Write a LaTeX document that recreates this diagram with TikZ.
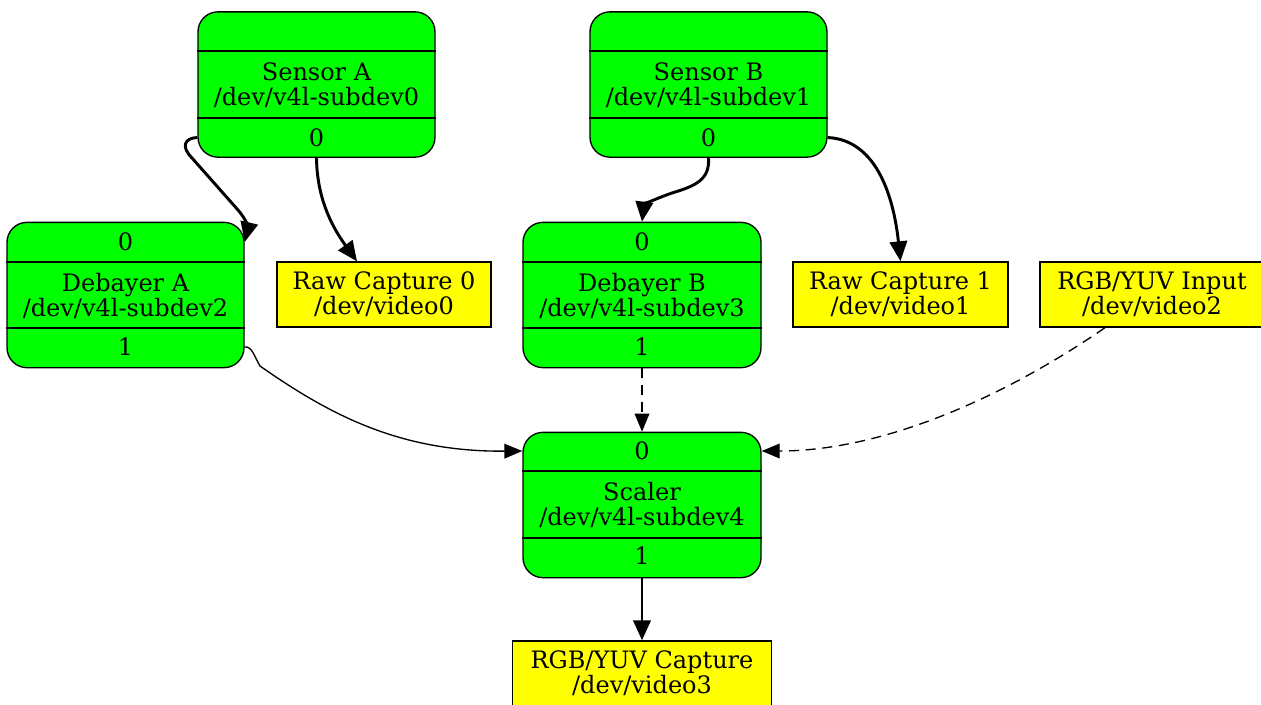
\documentclass[tikz,border=0pt]{standalone}
\usepackage{fontspec}
\setmainfont{DejaVu Serif}
\usetikzlibrary{arrows.meta}
\definecolor{gvgreen}{HTML}{00FF00}
\definecolor{gvyellow}{HTML}{FFFF00}
\begin{document}
\begin{tikzpicture}[x=0.75pt,y=-0.75pt,
  txt/.style={font=\fontsize{18}{18.75}\selectfont, align=center, inner sep=0pt},
  gbox/.style={draw, fill=gvgreen, rounded corners=15pt, line width=1pt, inner sep=0pt,
     minimum width=177.75pt, minimum height=109pt},
  ybox/.style={draw, fill=gvyellow, line width=1pt, inner sep=0pt, minimum height=48.75pt,
     font=\fontsize{18}{18.75}\selectfont, align=center},
  divider/.style={line width=1pt},
  thin/.style={line width=1pt, -{Triangle[length=13.5pt,width=11pt]}},
  thick/.style={line width=2.2pt, -{Triangle[length=15pt,width=13pt]}},
  dashline/.style={dash pattern=on 7.5pt off 5pt}
]
\useasboundingbox (0,0) rectangle (1261,704);

% ---------- green boxes ----------
\node[gbox] (sa) at (316.5,84.5) {};
\draw[divider] (sa.west |- 0,51) -- (sa.east |- 0,51);
\draw[divider] (sa.west |- 0,118) -- (sa.east |- 0,118);
\node[txt] (saname) at (316.5,85) {Sensor A\\/dev/v4l-subdev0};
\node[txt] (sap0) at (316.5,137.5) {0};

\node[gbox] (sb) at (708.5,84.5) {};
\draw[divider] (sb.west |- 0,51) -- (sb.east |- 0,51);
\draw[divider] (sb.west |- 0,118) -- (sb.east |- 0,118);
\node[txt] (sbname) at (708.5,85) {Sensor B\\/dev/v4l-subdev1};
\node[txt] (sbp0) at (708.5,137.5) {0};

\node[gbox] (da) at (125.5,295) {};
\draw[divider] (da.west |- 0,262) -- (da.east |- 0,262);
\draw[divider] (da.west |- 0,328) -- (da.east |- 0,328);
\node[txt] (daname) at (125.5,295.5) {Debayer A\\/dev/v4l-subdev2};
\node[txt] (dap0) at (125.5,242) {0};
\node[txt] (dap1) at (125.5,347) {1};

\node[gbox, minimum width=178.5pt] (db) at (642,295) {};
\draw[divider] (db.west |- 0,262) -- (db.east |- 0,262);
\draw[divider] (db.west |- 0,328) -- (db.east |- 0,328);
\node[txt] (dbname) at (642,295.5) {Debayer B\\/dev/v4l-subdev3};
\node[txt] (dbp0) at (642,242) {0};
\node[txt] (dbp1) at (642,347) {1};

\node[gbox, minimum width=178.5pt] (sc) at (642,505) {};
\draw[divider] (sc.west |- 0,471) -- (sc.east |- 0,471);
\draw[divider] (sc.west |- 0,538) -- (sc.east |- 0,538);
\node[txt] (scname) at (642,505) {Scaler\\/dev/v4l-subdev4};
\node[txt] (scp0) at (642,451) {0};
\node[txt] (scp1) at (642,556) {1};

% ---------- yellow boxes ----------
\node[ybox, minimum width=160.5pt] (rc0) at (384,294.5) {Raw Capture 0\\/dev/video0};
\node[ybox, minimum width=161.25pt] (rc1) at (900.5,294.5) {Raw Capture 1\\/dev/video1};
\node[ybox, minimum width=168pt] (ri) at (1152,294.5) {RGB/YUV Input\\/dev/video2};
\node[ybox, minimum width=194.25pt] (rc3) at (642,673.5) {RGB/YUV Capture\\/dev/video3};

% ---------- connectors ----------
\draw[thick] (sa.west |- sap0) .. controls (184,138) and (181,147) .. (192,158)
   -- (238,210) .. controls (246,219) and (248,228) .. (da.east |- dap0);
\draw[thick] (sap0 |- sa.south) .. controls (317,196) and (330,224) .. ([xshift=-20.25pt]rc0.north);
\draw[thick] (sbp0 |- sb.south) .. controls (710,180) and (695,186) .. (672,193)
   .. controls (652,200) and (644,205) .. (dbp0 |- db.north);
\draw[thick] (sb.east |- sbp0) .. controls (878,140) and (894,200) .. (rc1.north);
\draw[thin] (da.east |- dap1) .. controls (252,346) and (254,356) .. (260,366)
   .. controls (330,415) and (400,452) .. (sc.west |- scp0);
\draw[thin, dashline] (dbp1 |- db.south) -- (scp0 |- sc.north);
\draw[thin, dashline] ([xshift=-35.25pt]ri.south) .. controls (1000,400) and (880,451) .. (sc.east |- scp0);
\draw[thick] (scp1 |- sc.south) -- (rc3.north);
\end{tikzpicture}
\end{document}
